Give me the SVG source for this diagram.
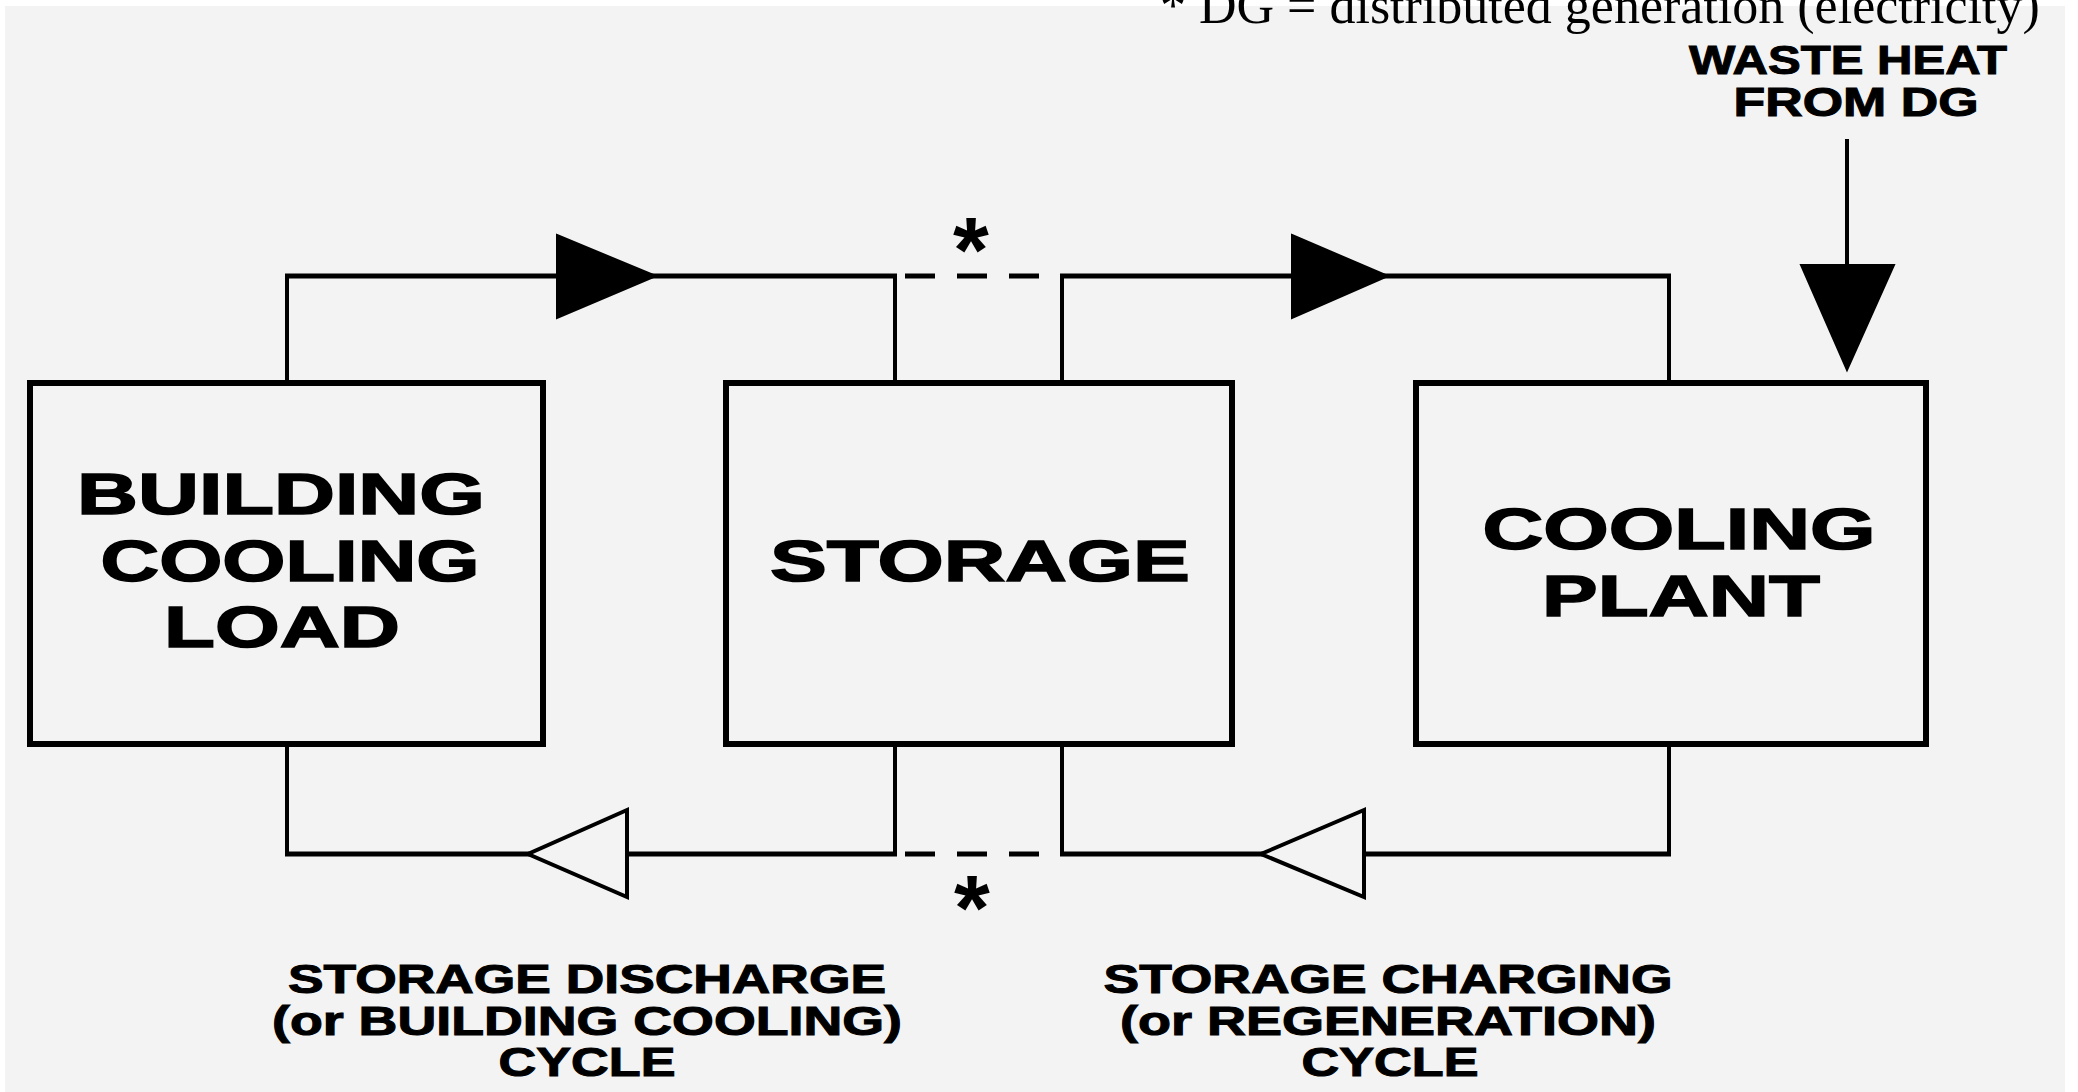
<svg xmlns="http://www.w3.org/2000/svg" width="2078" height="1092" viewBox="0 0 2078 1092">
<style>
.box{fill:none;stroke:#000;stroke-width:6}
.h{stroke:#000;stroke-width:5;fill:none}
.v{stroke:#000;stroke-width:4;fill:none}
.lbl{font-family:"Liberation Sans",Arial,sans-serif;font-weight:bold;font-size:58px;fill:#000;stroke:#000;stroke-width:1.5;text-anchor:middle}
.cap{font-family:"Liberation Sans",Arial,sans-serif;font-weight:bold;font-size:40px;fill:#000;stroke:#000;stroke-width:1;text-anchor:middle}
.star{font-family:"Liberation Sans",Arial,sans-serif;font-weight:bold;font-size:92px;fill:#000;text-anchor:middle}
.note{font-family:"Liberation Serif","Times New Roman",serif;font-size:52px;fill:#000}
.fill{fill:#000;stroke:#000;stroke-width:2}
.hollow{fill:#f3f3f3;stroke:#000;stroke-width:4;stroke-linejoin:miter}
</style>
<rect x="0" y="0" width="2078" height="1092" fill="#ffffff"/>
<rect x="5" y="6" width="2060" height="1086" fill="#f3f3f3"/>

<g id="connectors">
  <!-- top loop: building -> storage -->
  <polyline class="v" points="287,382 287,276"/>
  <line class="h" x1="285" y1="276" x2="897" y2="276"/>
  <polyline class="v" points="895,276 895,382"/>
  <!-- dashed link top -->
  <line class="h" x1="905" y1="276" x2="1055" y2="276" stroke-dasharray="30 22"/>
  <!-- top loop: storage -> plant -->
  <polyline class="v" points="1062,382 1062,276"/>
  <line class="h" x1="1060" y1="276" x2="1671" y2="276"/>
  <polyline class="v" points="1669,276 1669,382"/>
  <polygon class="fill" points="557,235 656,276 557,318"/>
  <polygon class="fill" points="1292,235 1388,276 1292,318"/>
  <!-- waste heat arrow -->
  <line class="v" x1="1847" y1="139" x2="1847" y2="270"/>
  <polygon class="fill" points="1801,265 1894,265 1847,370"/>
  <!-- bottom loop -->
  <polyline class="v" points="287,744 287,854"/>
  <line class="h" x1="285" y1="854" x2="897" y2="854"/>
  <polyline class="v" points="895,744 895,854"/>
  <line class="h" x1="905" y1="854" x2="1055" y2="854" stroke-dasharray="30 22"/>
  <polyline class="v" points="1062,744 1062,854"/>
  <line class="h" x1="1060" y1="854" x2="1671" y2="854"/>
  <polyline class="v" points="1669,744 1669,854"/>
  <polygon class="hollow" points="627,810 528,854 627,897"/>
  <polygon class="hollow" points="1364,810 1261,854 1364,897"/>
</g>

<g id="building">
  <rect class="box" x="30" y="383" width="513" height="361"/>
  <text class="lbl" x="281" y="514" textLength="408" lengthAdjust="spacingAndGlyphs">BUILDING</text>
  <text class="lbl" x="290" y="581" textLength="379" lengthAdjust="spacingAndGlyphs">COOLING</text>
  <text class="lbl" x="282" y="647" textLength="236" lengthAdjust="spacingAndGlyphs">LOAD</text>
</g>

<g id="storage">
  <rect class="box" x="726" y="383" width="506" height="361"/>
  <text class="lbl" x="980" y="581" textLength="420" lengthAdjust="spacingAndGlyphs">STORAGE</text>
</g>

<g id="plant">
  <rect class="box" x="1416" y="383" width="510" height="361"/>
  <text class="lbl" x="1679" y="549" textLength="393" lengthAdjust="spacingAndGlyphs">COOLING</text>
  <text class="lbl" x="1681" y="616" textLength="278" lengthAdjust="spacingAndGlyphs">PLANT</text>
</g>

<g id="waste-heat-label">
  <text class="cap" x="1848" y="74" textLength="318" lengthAdjust="spacingAndGlyphs">WASTE HEAT</text>
  <text class="cap" x="1856" y="116" textLength="245" lengthAdjust="spacingAndGlyphs">FROM DG</text>
</g>

<g id="asterisks">
  <text class="star" x="971" y="282">*</text>
  <text class="star" x="972" y="940">*</text>
</g>

<g id="discharge-label">
  <text class="cap" x="587" y="993" textLength="598" lengthAdjust="spacingAndGlyphs">STORAGE DISCHARGE</text>
  <text class="cap" x="587" y="1035" textLength="630" lengthAdjust="spacingAndGlyphs">(or BUILDING COOLING)</text>
  <text class="cap" x="587" y="1076" textLength="177" lengthAdjust="spacingAndGlyphs">CYCLE</text>
</g>

<g id="charging-label">
  <text class="cap" x="1388" y="993" textLength="569" lengthAdjust="spacingAndGlyphs">STORAGE CHARGING</text>
  <text class="cap" x="1388" y="1035" textLength="536" lengthAdjust="spacingAndGlyphs">(or REGENERATION)</text>
  <text class="cap" x="1390" y="1076" textLength="177" lengthAdjust="spacingAndGlyphs">CYCLE</text>
</g>

<g id="footnote">
  <text class="note" x="1160" y="23">* DG = distributed generation (electricity)</text>
</g>
</svg>
